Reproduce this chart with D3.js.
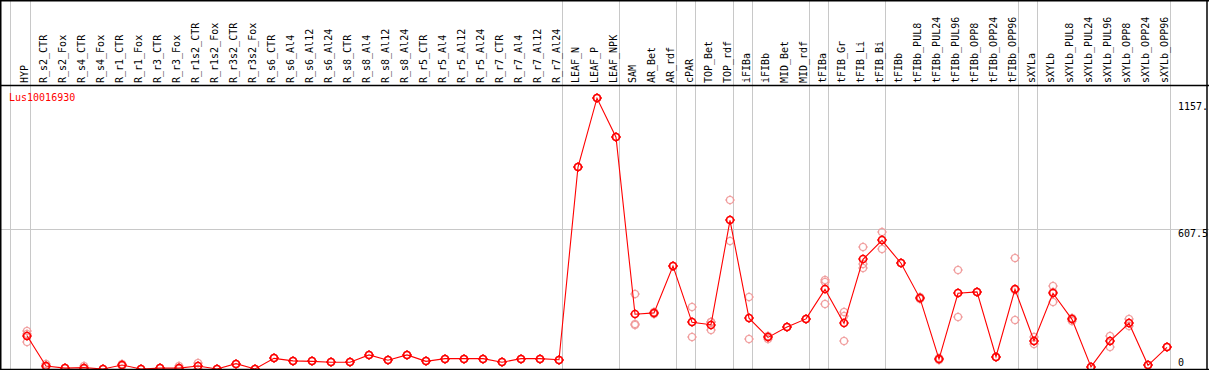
<!DOCTYPE html>
<html>
<head>
<meta charset="utf-8">
<script src="https://cdn.jsdelivr.net/npm/d3@7"></script>
<style>
  body { margin: 0; background: #fff; }
  text { font-family: "DejaVu Sans Mono", monospace; font-size: 10px; }
</style>
</head>
<body>
<div id="canvas"></div>
<script>
const categories = [
  'HYP', 'R_s2_CTR', 'R_s2_Fox', 'R_s4_CTR', 'R_s4_Fox', 'R_r1_CTR', 'R_r1_Fox', 'R_r3_CTR', 'R_r3_Fox',
  'R_r1s2_CTR', 'R_r1s2_Fox', 'R_r3s2_CTR', 'R_r3s2_Fox', 'R_s6_CTR', 'R_s6_Al4', 'R_s6_Al12', 'R_s6_Al24',
  'R_s8_CTR', 'R_s8_Al4', 'R_s8_Al12', 'R_s8_Al24', 'R_r5_CTR', 'R_r5_Al4', 'R_r5_Al12', 'R_r5_Al24',
  'R_r7_CTR', 'R_r7_Al4', 'R_r7_Al12', 'R_r7_Al24', 'LEAF_N', 'LEAF_P', 'LEAF_NPK', 'SAM', 'AR_Bet', 'AR_rdf',
  'cPAR', 'TOP_Bet', 'TOP_rdf', 'iFIBa', 'iFIBb', 'MID_Bet', 'MID_rdf', 'tFIBa', 'tFIB_Gr', 'tFIB_Li', 'tFIB_Bi',
  'tFIBb', 'tFIBb_PUL8', 'tFIBb_PUL24', 'tFIBb_PUL96', 'tFIBb_OPP8', 'tFIBb_OPP24', 'tFIBb_OPP96',
  'sXYLa', 'sXYLb', 'sXYLb_PUL8', 'sXYLb_PUL24', 'sXYLb_PUL96', 'sXYLb_OPP8', 'sXYLb_OPP24', 'sXYLb_OPP96'
]

const meanValues = [
  144, 13, 4, 6, 0, 17, 0, 4, 4, 13, 0, 23, 0, 46, 35, 33, 29, 29, 61, 38, 61, 33, 45, 45, 45, 29, 45, 45, 40,
  875, 1173, 1004, 237, 243, 446, 202, 192, 644, 220, 137, 182, 217, 345, 198, 475, 557,
  458, 306, 43, 328, 334, 53, 345, 123, 328, 215, 9, 121, 198, 16, 94
]

// replicates (pale circles)
const rep1 = [
  165, 20, 4, 14, 0, 22, 0, 4, 13, 25, 0, 23, 0, 46, 35, 33, 29, 29, 61, 38, 61, 33, 45, 45, 45, 29, 45, 45, 40,
  875, 1173, 1004, 326, 248, 446, 267, 205, 731, 311, 145, 182, 217, 387, 246, 527, 593,
  458, 310, 48, 428, 334, 53, 481, 140, 360, 222, 9, 144, 217, 16, 94
]
const rep2 = [
  150, 13, 4, 6, 0, 17, 0, 4, 4, 13, 0, 23, 0, 46, 35, 33, 29, 29, 61, 38, 61, 33, 45, 45, 45, 29, 45, 45, 40,
  875, 1173, 1004, 194, 243, 446, 202, 202, 645, 220, 137, 182, 217, 376, 228, 453, 560,
  458, 306, 43, 328, 334, 53, 343, 123, 332, 215, 9, 121, 198, 16, 94
]
const rep3 = [
  116, 8, 4, 0, 0, 12, 0, 4, 0, 2, 0, 23, 0, 46, 35, 33, 29, 29, 61, 38, 61, 33, 45, 45, 45, 29, 45, 45, 40,
  875, 1173, 1004, 191, 238, 446, 137, 169, 556, 129, 129, 182, 217, 282, 123, 439, 518,
  458, 302, 38, 224, 334, 53, 211, 108, 292, 209, 9, 97, 185, 16, 94
]

// last sample of each group gets a grey separator
const groupEnds = ['HYP', 'R_r7_Al24', 'LEAF_NPK', 'AR_rdf', 'cPAR', 'TOP_rdf', 'iFIBa', 'MID_rdf',
  'tFIBa', 'tFIB_Bi', 'tFIBb_OPP96', 'sXYLa', 'sXYLb_OPP96']

const yTicks = [1157, 607.5, 0]
const yTickLabels = ['1157.', '607.5', '0']
const gene = 'Lus10016930'

const width = 1209
const height = 370
const headerBottom = 85
const plotBottom = 369

const svg = d3.select('#canvas')
  .append('svg')
    .attr('width', width)
    .attr('height', height)

const x = d3.scaleBand()
  .domain(categories)
  .range([11, 11 + 19 * categories.length])
const px = c => x(c) + 16

const y = d3.scaleLinear()
  .domain([0, 1215])
  .range([plotBottom, 88.5])

// grid
svg.append('g').selectAll('line')
  .data([x(categories[0]) - 1].concat(groupEnds.map(c => x(c) + x.bandwidth())))
  .enter().append('line')
    .attr('x1', d => Math.round(d) + 0.5)
    .attr('x2', d => Math.round(d) + 0.5)
    .attr('y1', 0)
    .attr('y2', height)
    .attr('stroke', '#c8c8c8')

svg.append('line')
  .attr('x1', 0).attr('x2', width)
  .attr('y1', Math.round(y(607.5)) + 0.5).attr('y2', Math.round(y(607.5)) + 0.5)
  .attr('stroke', '#c8c8c8')

// header labels
svg.append('g').selectAll('text')
  .data(categories)
  .enter().append('text')
    .attr('transform', d => `translate(${px(d) + 1}, 83) rotate(-90)`)
    .attr('fill', '#000')
    .text(d => d)

// y labels
svg.append('g').selectAll('text')
  .data(yTicks)
  .enter().append('text')
    .attr('x', 1178)
    .attr('y', d => Math.min(y(d) + 8, 366))
    .attr('fill', '#000')
    .text((d, i) => yTickLabels[i])

svg.append('text')
  .attr('x', 9)
  .attr('y', 101)
  .attr('fill', 'red')
  .text(gene)

function marker(g, r, w) {
  g.append('circle').attr('r', r).attr('fill', 'none').attr('stroke-width', w)
  g.append('path')
    .attr('stroke-width', 1)
    .attr('d', `M0,${-r - 1.5}V${-r}M0,${r}V${r + 1.5}M${-r - 1.5},0H${-r}M${r},0H${r + 1.5}`)
}

// replicates
const reps = []
categories.forEach((c, i) => {
  [rep1[i], rep2[i], rep3[i]].forEach(v => reps.push({ c, v }))
})
svg.append('g')
  .attr('stroke', '#f09a9a')
  .selectAll('g')
  .data(reps)
  .enter().append('g')
    .attr('transform', d => `translate(${px(d.c)}, ${Math.round(y(d.v))})`)
    .each(function() { marker(d3.select(this), 3.5, 1.2) })

// mean line
const line = d3.line()
  .x((d, i) => px(categories[i]))
  .y(d => y(d))

svg.append('path')
  .datum(meanValues)
  .attr('fill', 'none')
  .attr('stroke', 'red')
  .attr('stroke-width', 1.1)
  .attr('d', line)

svg.append('g')
  .attr('stroke', 'red')
  .selectAll('g')
  .data(meanValues)
  .enter().append('g')
    .attr('transform', (d, i) => `translate(${px(categories[i])}, ${Math.round(y(d))})`)
    .each(function() { marker(d3.select(this), 3.5, 1.7) })

// frame
const frame = svg.append('g').attr('stroke', '#000').attr('stroke-width', 1.5)
frame.append('line').attr('x1', 0).attr('x2', width).attr('y1', 0.75).attr('y2', 0.75)
frame.append('line').attr('x1', 0).attr('x2', width).attr('y1', headerBottom + 0.5).attr('y2', headerBottom + 0.5)
frame.append('line').attr('x1', 0).attr('x2', width).attr('y1', plotBottom + 0.5).attr('y2', plotBottom + 0.5)
frame.append('line').attr('x1', 0.75).attr('x2', 0.75).attr('y1', 0).attr('y2', height)
frame.append('line').attr('x1', 1207).attr('x2', 1207).attr('y1', 0).attr('y2', height)
</script>
</body>
</html>
